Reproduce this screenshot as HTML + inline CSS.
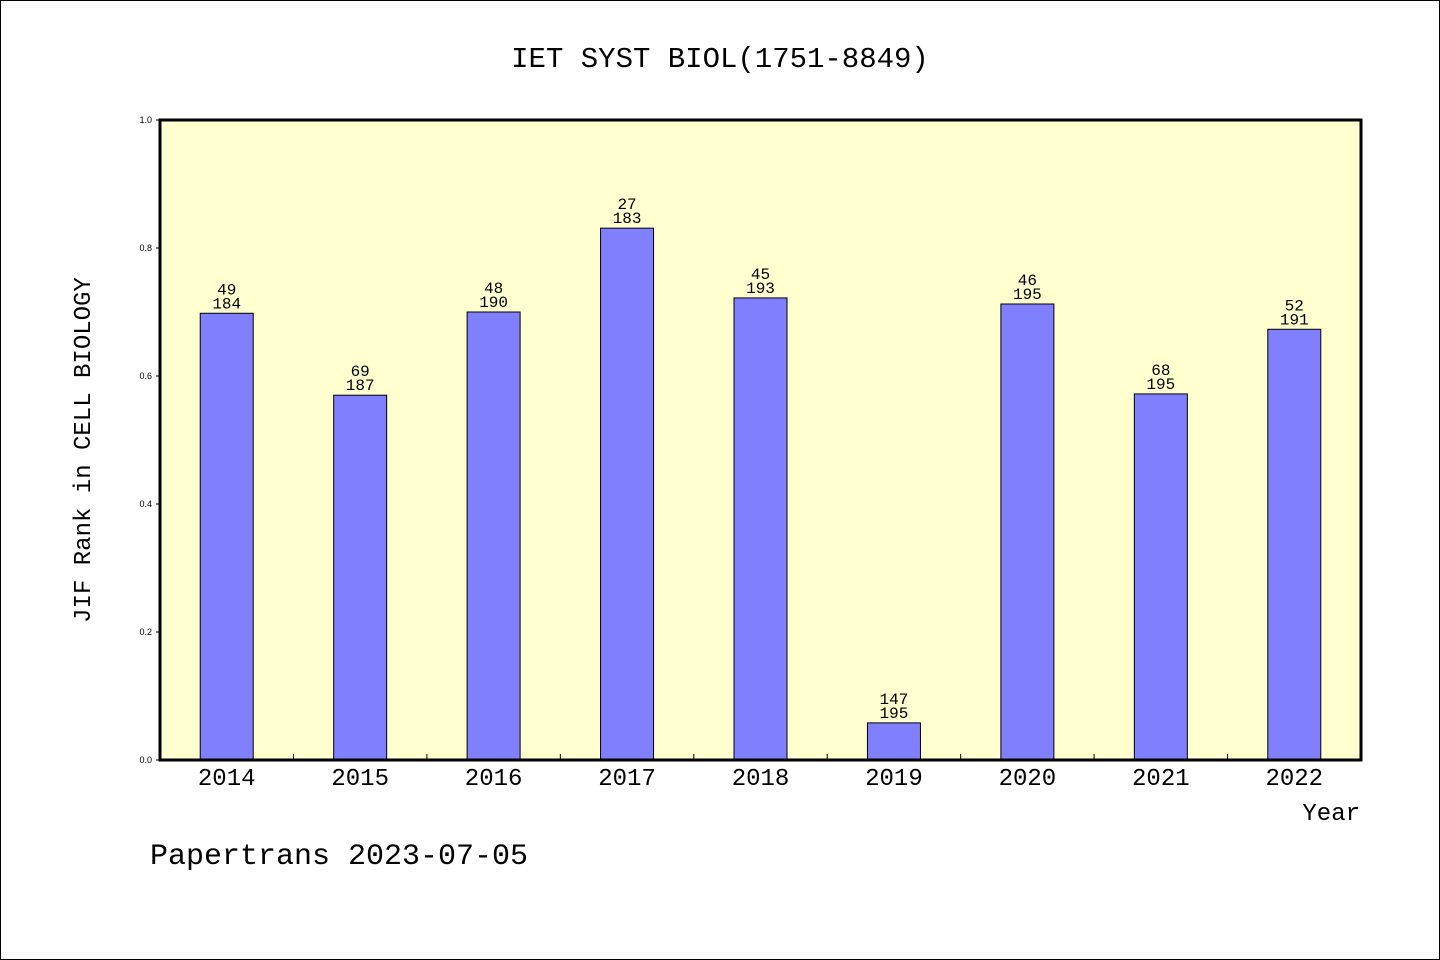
<!DOCTYPE html>
<html><head><meta charset="utf-8"><style>
body{margin:0;background:#fff}
svg{display:block}
text{font-family:"Liberation Mono","WenQuanYi Zen Hei",monospace;fill:#000}
</style></head><body>
<svg id="chart" width="1440" height="960" xmlns="http://www.w3.org/2000/svg">
<rect x="0.5" y="0.5" width="1439" height="959" fill="#fff" stroke="#000"/>
<text x="720" y="67" text-anchor="middle" font-size="29">IET SYST BIOL(1751-8849)</text>
<rect x="160" y="120" width="1201" height="640" fill="#ffffd0"/>
<g id="bars"></g>
<g id="axes"></g>
<rect x="160" y="120" width="1201" height="640" fill="none" stroke="#000" stroke-width="3"/>
<text transform="translate(90,450) rotate(-90)" text-anchor="middle" font-size="24">JIF Rank in CELL BIOLOGY</text>
<text x="1360" y="820" text-anchor="end" font-size="24">Year</text>
<text x="150" y="864" font-size="30">Papertrans 2023-07-05</text>
</svg>
<script>
const years=["2014","2015","2016","2017","2018","2019","2020","2021","2022"];
const values=[0.698,0.570,0.700,0.831,0.722,0.058,0.7125,0.572,0.673];
const ranks=["49","69","48","27","45","147","46","68","52"];
const totals=["184","187","190","183","193","195","195","195","191"];
const yTicks=["0.0","0.2","0.4","0.6","0.8","1.0"];
const NS="http://www.w3.org/2000/svg";
const X0=160,W=1201,Y0=760,H=640;
const band=W/years.length;
const xC=i=>X0+band*(i+0.5);
const y=v=>Y0-v*H;
function mk(tag,attrs,parent){const e=document.createElementNS(NS,tag);for(const k in attrs)e.setAttribute(k,attrs[k]);parent.appendChild(e);return e;}
const gb=document.getElementById('bars'),ga=document.getElementById('axes');
years.forEach((yr,i)=>{
  const r=mk('rect',{x:xC(i)-26.5,y:y(values[i]),width:53,height:Y0-y(values[i]),fill:'#8080ff',stroke:'#000','stroke-width':1},gb);
  
  
  const t1=mk('text',{x:xC(i),y:y(values[i])-19,'text-anchor':'middle','font-size':16},gb);
  t1.textContent=ranks[i];
  
  
  const t2=mk('text',{x:xC(i),y:y(values[i])-5,'text-anchor':'middle','font-size':16},gb);
  t2.textContent=totals[i];
  
  
  const xl=mk('text',{x:xC(i),y:785,'text-anchor':'middle','font-size':24},ga);
  xl.textContent=yr;
  
  
  if(i>0){
    const tk=mk('line',{x1:X0+band*i,x2:X0+band*i,y1:Y0,y2:Y0-6,stroke:'#000'},ga);
    
    
  }
});
yTicks.forEach(t=>{
  const v=parseFloat(t);
  const ln=mk('line',{x1:X0-4,x2:X0,y1:y(v),y2:y(v),stroke:'#000'},ga);
  
  
  const tl=mk('text',{x:X0-8,y:y(v)+3,'text-anchor':'end','font-size':9,style:'font-family:"Liberation Sans",sans-serif'},ga);
  tl.textContent=t;
  
  
});
</script>
</body></html>
